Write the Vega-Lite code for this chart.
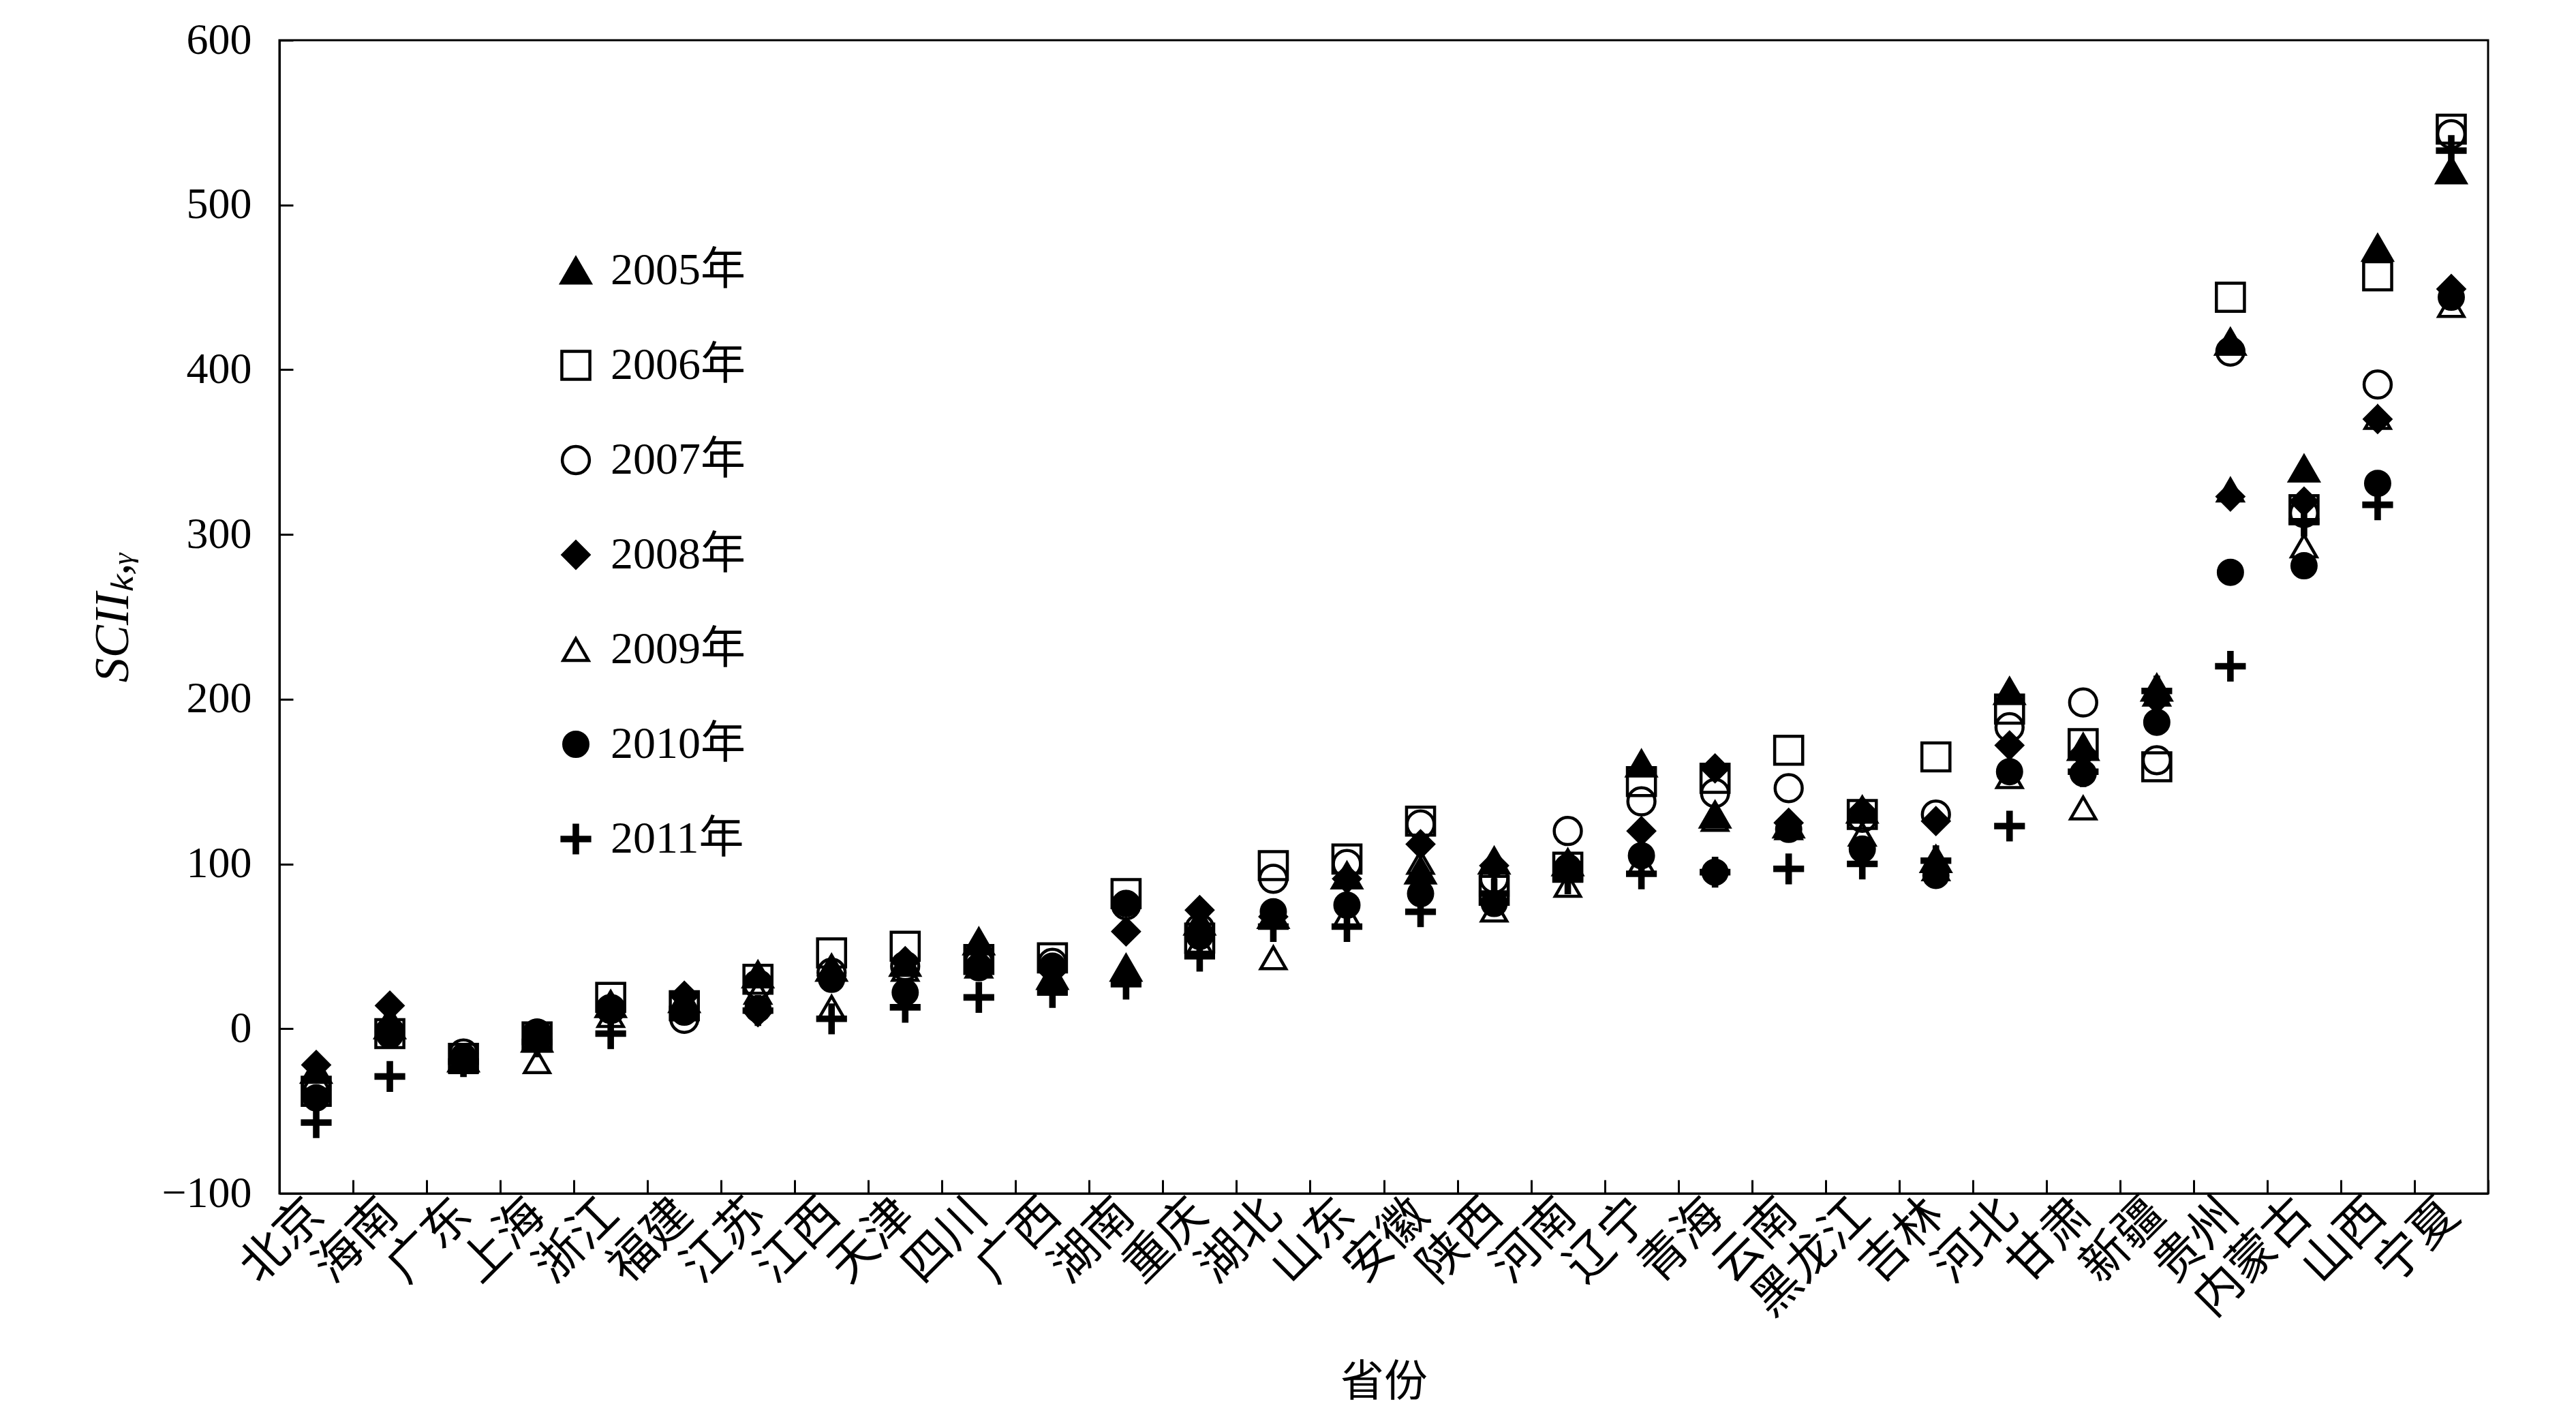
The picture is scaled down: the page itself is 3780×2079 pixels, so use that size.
{
  "$schema": "https://vega.github.io/schema/vega-lite/v6.json",
  "width": 3241,
  "height": 1692,
  "autosize": {"type": "none"},
  "padding": {"left": 410, "top": 59, "right": 129, "bottom": 328},
  "background": "white",
  "data": {
    "values": [
      {"省份": "北京", "2005年": -25, "2006年": -38, "2007年": -35, "2008年": -22, "2009年": -30, "2010年": -42, "2011年": -57},
      {"省份": "海南", "2005年": 2, "2006年": -3, "2007年": -2, "2008年": 14, "2009年": 6, "2010年": -4, "2011年": -29},
      {"省份": "广东", "2005年": -18, "2006年": -18, "2007年": -15, "2008年": -20, "2009年": -20, "2010年": -17, "2011年": -20},
      {"省份": "上海", "2005年": -6, "2006年": -5, "2007年": -3, "2008年": -5, "2009年": -20, "2010年": -2, "2011年": -8},
      {"省份": "浙江", "2005年": 15, "2006年": 19, "2007年": 12, "2008年": 12, "2009年": 8, "2010年": 12, "2011年": -3},
      {"省份": "福建", "2005年": 18, "2006年": 14, "2007年": 6, "2008年": 20, "2009年": 12, "2010年": 10, "2011年": 12},
      {"省份": "江苏", "2005年": 33, "2006年": 30, "2007年": 27, "2008年": 10, "2009年": 22, "2010年": 12, "2011年": 11},
      {"省份": "江西", "2005年": 37, "2006年": 46, "2007年": 34, "2008年": 32, "2009年": 13, "2010年": 30, "2011年": 6},
      {"省份": "天津", "2005年": 40, "2006年": 50, "2007年": 38, "2008年": 41, "2009年": 36, "2010年": 22, "2011年": 13},
      {"省份": "四川", "2005年": 53, "2006年": 42, "2007年": 40, "2008年": 40, "2009年": 38, "2010年": 37, "2011年": 19},
      {"省份": "广西", "2005年": 32, "2006年": 43, "2007年": 40, "2008年": 35, "2009年": 29, "2010年": 38, "2011年": 22},
      {"省份": "湖南", "2005年": 37, "2006年": 82, "2007年": 75, "2008年": 59, "2009年": 34, "2010年": 76, "2011年": 27},
      {"省份": "重庆", "2005年": 65, "2006年": 55, "2007年": 61, "2008年": 72, "2009年": 52, "2010年": 56, "2011年": 44},
      {"省份": "湖北", "2005年": 69, "2006年": 99, "2007年": 91, "2008年": 68, "2009年": 43, "2010年": 71, "2011年": 62},
      {"省份": "山东", "2005年": 93, "2006年": 103, "2007年": 100, "2008年": 91, "2009年": 69, "2010年": 75, "2011年": 62},
      {"省份": "安徽", "2005年": 96, "2006年": 126, "2007年": 124, "2008年": 112, "2009年": 101, "2010年": 82, "2011年": 71},
      {"省份": "陕西", "2005年": 102, "2006年": 84, "2007年": 91, "2008年": 99, "2009年": 72, "2010年": 76, "2011年": 82},
      {"省份": "河南", "2005年": 101, "2006年": 98, "2007年": 120, "2008年": 100, "2009年": 87, "2010年": 98, "2011年": 91},
      {"省份": "辽宁", "2005年": 161, "2006年": 150, "2007年": 138, "2008年": 120, "2009年": 101, "2010年": 105, "2011年": 94},
      {"省份": "青海", "2005年": 130, "2006年": 152, "2007年": 143, "2008年": 158, "2009年": 127, "2010年": 95, "2011年": 95},
      {"省份": "云南", "2005年": 124, "2006年": 169, "2007年": 146, "2008年": 125, "2009年": 122, "2010年": 121, "2011年": 97},
      {"省份": "黑龙江", "2005年": 133, "2006年": 130, "2007年": 128, "2008年": 132, "2009年": 118, "2010年": 109, "2011年": 100},
      {"省份": "吉林", "2005年": 103, "2006年": 165, "2007年": 130, "2008年": 126, "2009年": 97, "2010年": 93, "2011年": 102},
      {"省份": "河北", "2005年": 205, "2006年": 194, "2007年": 183, "2008年": 172, "2009年": 153, "2010年": 156, "2011年": 123},
      {"省份": "甘肃", "2005年": 171, "2006年": 173, "2007年": 198, "2008年": 167, "2009年": 134, "2010年": 155, "2011年": 156},
      {"省份": "新疆", "2005年": 207, "2006年": 159, "2007年": 163, "2008年": 200, "2009年": 203, "2010年": 186, "2011年": 205},
      {"省份": "贵州", "2005年": 417, "2006年": 444, "2007年": 411, "2008年": 323, "2009年": 327, "2010年": 277, "2011年": 220},
      {"省份": "内蒙古", "2005年": 340, "2006年": 315, "2007年": 313, "2008年": 320, "2009年": 293, "2010年": 281, "2011年": 308},
      {"省份": "山西", "2005年": 474, "2006年": 457, "2007年": 391, "2008年": 370, "2009年": 371, "2010年": 331, "2011年": 318},
      {"省份": "宁夏", "2005年": 521, "2006年": 546, "2007年": 543, "2008年": 449, "2009年": 439, "2010年": 444, "2011年": 533}
    ]
  },
  "transform": [
    {"fold": ["2005年", "2006年", "2007年", "2008年", "2009年", "2010年", "2011年"], "as": ["年份", "SCII"]}
  ],
  "mark": {"type": "point", "filled": true, "strokeWidth": 4.5, "opacity": 1, "fillOpacity": 1, "strokeOpacity": 1},
  "encoding": {
    "x": {
      "field": "省份",
      "type": "nominal",
      "sort": null,
      "scale": {"paddingInner": 0, "paddingOuter": 0},
      "axis": {
        "title": "省份",
        "titleFont": "Liberation Serif, Noto Sans CJK SC",
        "titleFontSize": 64,
        "titleFontWeight": "normal",
        "titlePadding": 52,
        "labelAngle": -45,
        "labelAlign": "right",
        "labelBaseline": "middle",
        "labelFont": "Liberation Serif, Noto Sans CJK SC",
        "labelFontSize": 70,
        "labelLimit": 0,
        "labelPadding": 40,
        "tickBand": "extent",
        "tickSize": -20
      }
    },
    "y": {
      "field": "SCII",
      "type": "quantitative",
      "scale": {"domain": [-100, 600], "nice": false, "zero": false},
      "axis": {
        "title": "SCIIₖ,ᵧ",
        "titleFont": "Liberation Serif",
        "titleFontStyle": "italic",
        "titleFontSize": 72,
        "titleFontWeight": "normal",
        "titlePadding": 34,
        "values": [-100, 0, 100, 200, 300, 400, 500, 600],
        "labelFont": "Liberation Serif",
        "labelFontSize": 64,
        "labelPadding": 61,
        "tickSize": -20
      }
    },
    "stroke": {
      "field": "年份",
      "type": "nominal",
      "scale": {
        "domain": ["2005年", "2006年", "2007年", "2008年", "2009年", "2010年", "2011年"],
        "range": ["black", "black", "black", "black", "black", "black", "black"]
      },
      "legend": {
        "title": null,
        "orient": "none",
        "legendX": 402,
        "legendY": 305,
        "padding": 0,
        "labelFont": "Liberation Serif, Noto Sans CJK SC",
        "labelFontSize": 66,
        "labelLimit": 0,
        "labelOffset": 18,
        "labelColor": "black",
        "rowPadding": 73,
        "symbolStrokeWidth": 4.5
      }
    },
    "shape": {
      "field": "年份",
      "type": "nominal",
      "scale": {
        "domain": ["2005年", "2006年", "2007年", "2008年", "2009年", "2010年", "2011年"],
        "range": ["triangle-up", "square", "circle", "diamond", "triangle-up", "circle", "M-1.2,-0.15H-0.15V-1.2H0.15V-0.15H1.2V0.15H0.15V1.2H-0.15V0.15H-1.2Z"]
      },
      "legend": {
        "title": null,
        "orient": "none",
        "legendX": 402,
        "legendY": 305,
        "padding": 0,
        "labelFont": "Liberation Serif, Noto Sans CJK SC",
        "labelFontSize": 66,
        "labelLimit": 0,
        "labelOffset": 18,
        "labelColor": "black",
        "rowPadding": 73,
        "symbolStrokeWidth": 4.5
      }
    },
    "fill": {
      "field": "年份",
      "type": "nominal",
      "scale": {
        "domain": ["2005年", "2006年", "2007年", "2008年", "2009年", "2010年", "2011年"],
        "range": ["black", "transparent", "transparent", "black", "transparent", "black", "black"]
      },
      "legend": {
        "title": null,
        "orient": "none",
        "legendX": 402,
        "legendY": 305,
        "padding": 0,
        "labelFont": "Liberation Serif, Noto Sans CJK SC",
        "labelFontSize": 66,
        "labelLimit": 0,
        "labelOffset": 18,
        "labelColor": "black",
        "rowPadding": 73,
        "symbolStrokeWidth": 4.5
      }
    },
    "size": {
      "field": "年份",
      "type": "nominal",
      "scale": {
        "domain": ["2005年", "2006年", "2007年", "2008年", "2009年", "2010年", "2011年"],
        "range": [1800, 1150, 1400, 1400, 1800, 1400, 1300]
      },
      "legend": {
        "title": null,
        "orient": "none",
        "legendX": 402,
        "legendY": 305,
        "padding": 0,
        "labelFont": "Liberation Serif, Noto Sans CJK SC",
        "labelFontSize": 66,
        "labelLimit": 0,
        "labelOffset": 18,
        "labelColor": "black",
        "rowPadding": 73,
        "symbolStrokeWidth": 4.5
      }
    }
  },
  "config": {
    "view": {"stroke": "black", "strokeWidth": 3},
    "legend": {"symbolStrokeWidth": 4.5},
    "axis": {
      "grid": false,
      "domainColor": "black",
      "domainWidth": 3,
      "tickColor": "black",
      "tickWidth": 3,
      "labelColor": "black",
      "titleColor": "black"
    }
  }
}
